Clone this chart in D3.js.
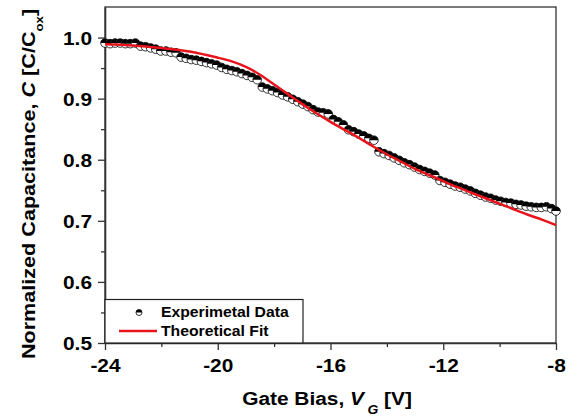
<!DOCTYPE html>
<html>
<head>
<meta charset="utf-8">
<script src="https://cdn.jsdelivr.net/npm/d3@7"></script>
<style>
  body { margin: 0; background: #fff; }
  text { font-family: "Liberation Sans", Arial, sans-serif; font-weight: bold; fill: #000; }
</style>
</head>
<body>
<div id="chart"></div>
<script>
// measured data (gate bias in V, normalized capacitance)
var biasExp = [-24.00, -23.82, -23.64, -23.46, -23.28, -23.10, -22.92, -22.74, -22.56, -22.38,
  -22.20, -22.02, -21.84, -21.66, -21.48, -21.30, -21.12, -20.94, -20.76, -20.58,
  -20.40, -20.22, -20.04, -19.86, -19.68, -19.50, -19.32, -19.14, -18.96, -18.78,
  -18.60, -18.42, -18.24, -18.06, -17.88, -17.70, -17.52, -17.34, -17.16, -16.98,
  -16.80, -16.62, -16.44, -16.26, -16.08, -15.90, -15.72, -15.54, -15.36, -15.18,
  -15.00, -14.82, -14.64, -14.46, -14.28, -14.10, -13.92, -13.74, -13.56, -13.38,
  -13.20, -13.02, -12.84, -12.66, -12.48, -12.30, -12.12, -11.94, -11.76, -11.58,
  -11.40, -11.22, -11.04, -10.86, -10.68, -10.50, -10.32, -10.14, -9.96, -9.78,
  -9.60, -9.42, -9.24, -9.06, -8.88, -8.70, -8.52, -8.34, -8.16, -8.00];
var capExp = [0.991, 0.990, 0.991, 0.991, 0.990, 0.990, 0.991, 0.986, 0.985, 0.983,
  0.981, 0.978, 0.978, 0.976, 0.975, 0.968, 0.966, 0.964, 0.963, 0.961,
  0.959, 0.957, 0.955, 0.951, 0.948, 0.946, 0.944, 0.941, 0.938, 0.935,
  0.931, 0.919, 0.916, 0.913, 0.910, 0.906, 0.903, 0.899, 0.895, 0.891,
  0.887, 0.882, 0.878, 0.877, 0.875, 0.866, 0.862, 0.857, 0.849, 0.846,
  0.842, 0.839, 0.835, 0.832, 0.813, 0.810, 0.807, 0.803, 0.799, 0.795,
  0.792, 0.788, 0.784, 0.781, 0.778, 0.775, 0.766, 0.763, 0.760, 0.757,
  0.755, 0.752, 0.749, 0.745, 0.742, 0.739, 0.737, 0.734, 0.732, 0.730,
  0.729, 0.727, 0.726, 0.724, 0.723, 0.722, 0.722, 0.723, 0.720, 0.716];

// theoretical fit
var biasFit = [-24, -23, -22, -21, -20, -19.5, -19, -18.5, -18, -17.5, -17, -16.5, -16,
  -15.5, -15, -14.5, -14, -13.5, -13, -12.5, -12, -11.5, -11, -10.5, -10, -9.5, -9, -8.5, -8];
var capFit = [0.989, 0.987, 0.983, 0.977, 0.967, 0.961, 0.952, 0.939, 0.923, 0.907, 0.891, 0.876, 0.862,
  0.849, 0.836, 0.822, 0.809, 0.797, 0.785, 0.775, 0.765, 0.755, 0.746, 0.737, 0.728, 0.719, 0.710, 0.702, 0.693];

var xTicks = [-24, -20, -16, -12, -8];
var xMinor = [-22, -18, -14, -10];
var yTicks = [0.5, 0.6, 0.7, 0.8, 0.9, 1.0];
var yMinor = [0.55, 0.65, 0.75, 0.85, 0.95];

var margin = {top: 7, right: 23, bottom: 76, left: 105},
    fullWidth = 579,
    fullHeight = 419,
    width  = fullWidth - margin.left - margin.right,
    height = fullHeight - margin.top - margin.bottom;

var stretch = 1.16; // glyphs in the original are wider than Arial

var xScale = d3.scaleLinear().domain([-24, -8]).range([0, width]);
var yScale = d3.scaleLinear().domain([0.5, 1.05]).range([height, 0]);

var svg = d3.select("#chart").append("svg")
    .attr("width", fullWidth)
    .attr("height", fullHeight)
  .append("g")
    .attr("transform", "translate(" + margin.left + "," + margin.top + ")");

// frame
svg.append("rect")
  .attr("width", width).attr("height", height)
  .attr("fill", "none").attr("stroke", "#222").attr("stroke-width", 1.2);

// minor ticks
svg.append("g")
  .attr("transform", "translate(0," + height + ")")
  .call(d3.axisBottom(xScale).tickValues(xMinor).tickSize(4).tickFormat(""))
  .call(function(g) { g.select(".domain").remove(); });
svg.append("g")
  .call(d3.axisLeft(yScale).tickValues(yMinor).tickSize(4).tickFormat(""))
  .call(function(g) { g.select(".domain").remove(); });

// major axes
var xAxis = svg.append("g")
  .attr("transform", "translate(0," + height + ")")
  .call(d3.axisBottom(xScale).tickValues(xTicks).tickSize(7).tickSizeOuter(0)
          .tickFormat(function(d) { return String(d); }));
xAxis.selectAll("text")
  .attr("y", 0).attr("dy", 0)
  .attr("transform", "translate(0,29) scale(" + stretch + ",1)")
  .style("font-size", "18px");

var yAxis = svg.append("g")
  .call(d3.axisLeft(yScale).tickValues(yTicks).tickSize(7).tickSizeOuter(0)
          .tickFormat(d3.format(".1f")));
yAxis.selectAll("text")
  .attr("x", 0).attr("dy", "0.36em")
  .attr("transform", "translate(-13,0) scale(" + stretch + ",1)")
  .style("font-size", "18px");

svg.selectAll(".domain").attr("stroke", "#333").attr("stroke-width", 1.6);
svg.selectAll(".tick line").attr("stroke", "#333").attr("stroke-width", 1.3);

// data markers: half filled circles
var r = 4.3;
var marks = svg.append("g").selectAll("g.pt")
  .data(biasExp.map(function(v, i) { return {v: v, c: capExp[i]}; }))
  .enter().append("g")
  .attr("transform", function(d) { return "translate(" + xScale(d.v) + "," + yScale(d.c) + ")"; });
marks.append("circle").attr("r", r).attr("fill", "#fff").attr("stroke", "#000").attr("stroke-width", 0.8);
marks.append("path")
  .attr("d", "M" + (-r) + ",0A" + r + "," + r + " 0 0 1 " + r + ",0Z")
  .attr("fill", "#000");

// theoretical fit
var line = d3.line()
  .x(function(d, i) { return xScale(d); })
  .y(function(d, i) { return yScale(capFit[i]); })
  .curve(d3.curveNatural);

svg.append("path")
  .datum(biasFit)
  .attr("fill", "none")
  .attr("stroke", "#e8141c")
  .attr("stroke-width", 2.5)
  .attr("d", line);

// legend
var legend = svg.append("g").attr("transform", "translate(0," + (height - 43.5) + ")");
legend.append("rect")
  .attr("width", 198).attr("height", 43.5)
  .attr("fill", "#fff").attr("stroke", "#222").attr("stroke-width", 1.2);
var lr = 3;
var lm = legend.append("g").attr("transform", "translate(34,13)");
lm.append("circle").attr("r", lr).attr("fill", "#fff").attr("stroke", "#000").attr("stroke-width", 0.8);
lm.append("path").attr("d", "M" + (-lr) + ",0A" + lr + "," + lr + " 0 0 1 " + lr + ",0Z").attr("fill", "#000");
legend.append("text")
  .attr("transform", "translate(56,17.5) scale(1.05,1)")
  .style("font-size", "15px")
  .text("Experimetal Data");
legend.append("line")
  .attr("x1", 14).attr("x2", 52).attr("y1", 31.5).attr("y2", 31.5)
  .attr("stroke", "#e8141c").attr("stroke-width", 2.5);
legend.append("text")
  .attr("transform", "translate(56,36.5) scale(1.05,1)")
  .style("font-size", "15px")
  .text("Theoretical Fit");

// axis titles
var xt = d3.select("svg").append("text")
  .attr("transform", "translate(327,405) scale(" + stretch + ",1)")
  .attr("text-anchor", "middle")
  .style("font-size", "18px");
xt.append("tspan").text("Gate Bias, ");
xt.append("tspan").style("font-style", "italic").text("V");
xt.append("tspan").style("font-style", "italic").style("font-size", "12px").attr("dx", 3).attr("dy", 9).text("G");
xt.append("tspan").attr("dy", -9).text(" [V]");

var yt = d3.select("svg").append("text")
  .attr("transform", "translate(35,184) rotate(-90) scale(" + (stretch + 0.04) + ",1)")
  .attr("text-anchor", "middle")
  .style("font-size", "18px");
yt.append("tspan").text("Normalized Capacitance, ");
yt.append("tspan").style("font-style", "italic").text("C");
yt.append("tspan").text(" [C/C");
yt.append("tspan").style("font-size", "11px").attr("dy", 8).text("ox");
yt.append("tspan").attr("dy", -8).text("]");
</script>
</body>
</html>
